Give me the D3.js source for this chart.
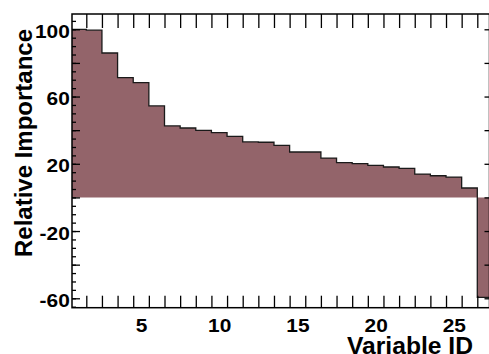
<!DOCTYPE html>
<html>
<head>
<meta charset="utf-8">
<script src="https://cdn.jsdelivr.net/npm/d3@7"></script>
<style>
  html, body { margin: 0; padding: 0; background: #fff; }
  svg { display: block; }
  text { font-family: "Liberation Sans", Arial, sans-serif; font-weight: bold; fill: #000; }
</style>
</head>
<body>
<svg id="chart" width="489" height="354"></svg>
<script>
// ---- data ----
const variableIds = d3.range(1, 28);
const importance = [100, 99.5, 85.9, 71.3, 68.3, 54.4, 42.5, 41.3, 39.9, 38.5, 36.3, 33.0, 32.8, 31.0, 27.0, 27.0,
                    23.4, 20.7, 20.1, 19.1, 18.1, 17.3, 13.9, 12.9, 12.1, 5.6, -59.5];
const xTickLabels = [5, 10, 15, 20, 25];
const yTickLabels = [100, 60, 20, -20, -60];

// ---- layout ----
const frame = {left: 72, right: 489.5, top: 14, bottom: 307.7};
const svg = d3.select("#chart");

const x = d3.scaleLinear().domain([0.5, 27.5]).range([70.66, 492.94]);
const y = d3.scaleLinear().domain([-65.6, 109.1]).range([frame.bottom, frame.top]);

svg.append("rect").attr("width", 489).attr("height", 354).attr("fill", "#fff");

svg.append("clipPath").attr("id", "clip")
  .append("rect")
  .attr("x", frame.left).attr("y", frame.top)
  .attr("width", frame.right - frame.left).attr("height", frame.bottom - frame.top);

const steps = importance.map((v, i) => ({edge: variableIds[i] - 0.5, v}));
steps.push({edge: variableIds[variableIds.length - 1] + 0.5, v: importance[importance.length - 1]});

const plot = svg.append("g").attr("clip-path", "url(#clip)");

plot.append("path")
  .datum(steps)
  .attr("fill", "#93646a")
  .attr("d", d3.area().curve(d3.curveStepAfter)
    .x(d => x(d.edge)).y0(y(0)).y1(d => y(d.v)));

plot.append("path")
  .datum(steps)
  .attr("fill", "none")
  .attr("stroke", "#1a1a1a")
  .attr("stroke-width", 1.3)
  .attr("d", d3.line().curve(d3.curveStepAfter)
    .x(d => x(d.edge)).y(d => y(d.v)));

const edges = d3.range(1.5, 27, 1);
const fmt = d => String(d);

function clean(g) { g.select(".domain").remove(); g.selectAll("line").attr("stroke", "#000").attr("stroke-width", 1.3); }

svg.append("g").attr("transform", `translate(0,${frame.bottom})`)
  .call(d3.axisBottom(x).tickValues(edges).tickSize(-12).tickSizeOuter(0).tickFormat(""))
  .call(clean);
svg.append("g").attr("transform", `translate(0,${frame.top})`)
  .call(d3.axisTop(x).tickValues(edges).tickSize(-14).tickSizeOuter(0).tickFormat(""))
  .call(clean);
svg.append("g").attr("transform", `translate(0,${frame.bottom})`)
  .call(d3.axisBottom(x).tickValues(xTickLabels).tickSize(0).tickSizeOuter(0).tickFormat(fmt))
  .call(g => g.select(".domain").remove())
  .call(g => g.selectAll("text")
    .attr("y", 24.3).attr("dy", null)
    .attr("font-size", 19).attr("transform", "scale(1.1,1)")
    .attr("font-family", null));

svg.append("g").attr("transform", `translate(${frame.left},0)`)
  .call(d3.axisRight(y).tickValues(d3.range(-65, 106, 5)).tickSize(4).tickSizeOuter(0).tickFormat(""))
  .call(clean);
svg.append("g").attr("transform", `translate(${frame.left},0)`)
  .call(d3.axisRight(y).tickValues(d3.range(-60, 101, 20)).tickSize(8).tickSizeOuter(0).tickFormat(""))
  .call(clean);
svg.append("g").attr("transform", `translate(${frame.left},0)`)
  .call(d3.axisLeft(y).tickValues(yTickLabels).tickSize(0).tickPadding(2).tickSizeOuter(0).tickFormat(fmt))
  .call(g => g.select(".domain").remove())
  .call(g => g.selectAll("text")
    .attr("dy", "0.32em").attr("y", 2)
    .attr("font-size", 19).attr("transform", "scale(1.1,1)")
    .attr("font-family", null));

svg.append("g").attr("transform", `translate(${frame.right},0)`)
  .call(d3.axisLeft(y).tickValues(d3.range(-60, 101, 20)).tickSize(5).tickSizeOuter(0).tickFormat(""))
  .call(clean);

svg.append("rect")
  .attr("x", frame.left).attr("y", frame.top)
  .attr("width", frame.right - frame.left).attr("height", frame.bottom - frame.top)
  .attr("fill", "none").attr("stroke", "#000").attr("stroke-width", 1.5);

svg.append("text")
  .attr("transform", "translate(32,143) rotate(-90)")
  .attr("text-anchor", "middle")
  .attr("font-size", 24)
  .text("Relative Importance");

svg.append("text")
  .attr("x", 473).attr("y", 353.5)
  .attr("text-anchor", "end")
  .attr("font-size", 23)
  .attr("textLength", 126).attr("lengthAdjust", "spacingAndGlyphs")
  .text("Variable ID");
</script>
</body>
</html>
